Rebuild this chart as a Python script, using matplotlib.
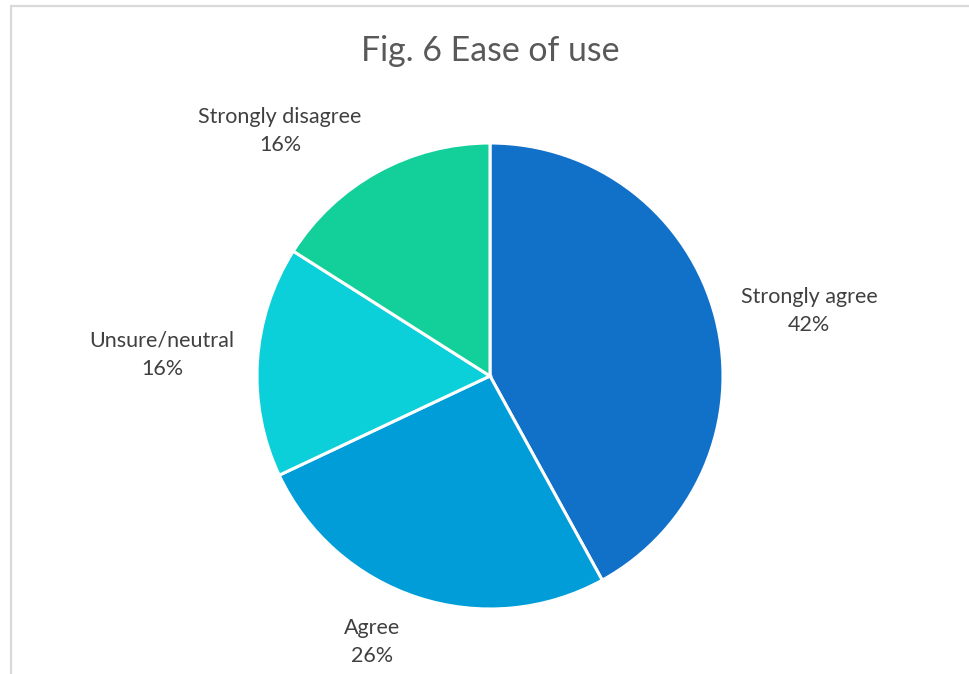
import matplotlib
matplotlib.use("Agg")
import matplotlib.pyplot as plt
from matplotlib.patches import Rectangle

categories = ["Strongly agree", "Agree", "Unsure/neutral", "Strongly disagree"]
values = [42, 26, 16, 16]
colors = ["#1170C8", "#019DD9", "#0BCFD9", "#13CF9A"]
title = "Fig. 6 Ease of use"

W, H = 969, 674
fig = plt.figure(figsize=(W / 100, H / 100), dpi=100)
fig.patch.set_facecolor("white")

# light gray frame
fig.add_artist(Rectangle((11 / W, -0.01), 1.1, (H - 6) / H + 0.01, transform=fig.transFigure,
                         fill=False, edgecolor="#D9D9D9", linewidth=1.6))

cx, cy, r = 490, 376, 233
ax = fig.add_axes([(cx - r) / W, (H - cy - r) / H, 2 * r / W, 2 * r / H])
ax.pie(values, colors=colors, startangle=90, counterclock=False,
       wedgeprops=dict(edgecolor="white", linewidth=2.2))
ax.set_aspect("equal")
ax.set_xlim(-1, 1)
ax.set_ylim(-1, 1)

font = "Lato"
fig.text(490 / W, 1 - 51 / H, title, ha="center", va="center", fontsize=24.4,
         color="#595959", family=font)

label_pos = [(809, 311), (372, 642), (162, 355), (280, 131)]
for (x, y), c, v in zip(label_pos, categories, values):
    fig.text(x / W, 1 - y / H, f"{c}\n{v}%", ha="center", va="center", fontsize=15.5,
             color="#404040", family=font, linespacing=1.55)

fig.savefig("out.png", dpi=100)
